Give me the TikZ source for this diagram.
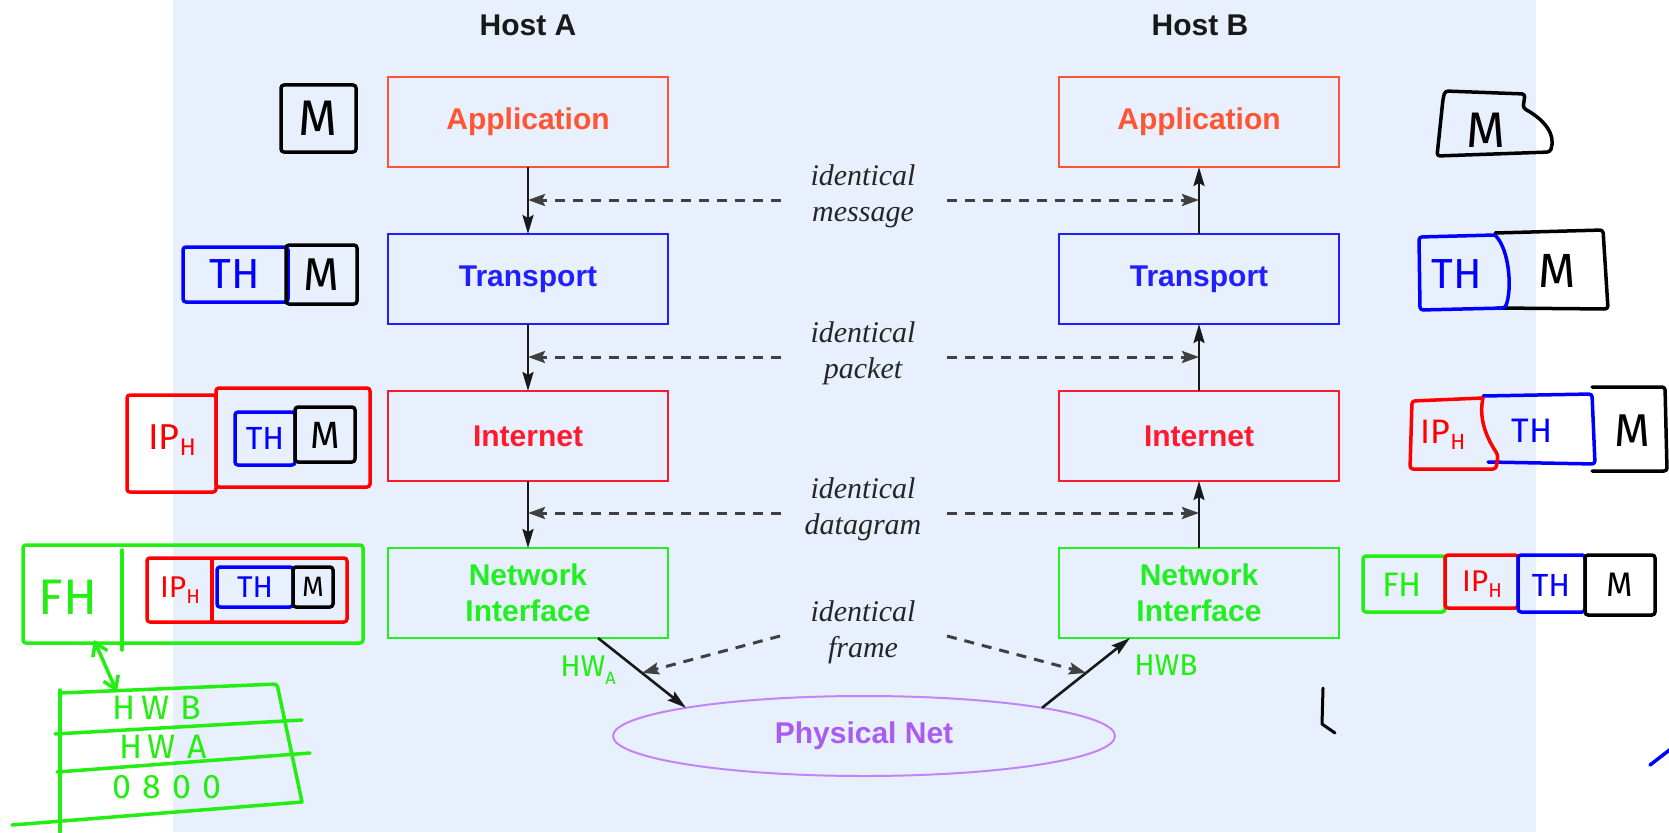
\documentclass[tikz,border=0pt]{standalone}
\usepackage{fontspec}
\setmainfont{Liberation Serif}
\setsansfont{Liberation Sans}
\newfontfamily\hwfont{Fira Sans}
\usetikzlibrary{arrows.meta,shapes.geometric,calc}
\definecolor{bgc}{HTML}{E7F0FC}
\definecolor{appc}{HTML}{FF5533}
\definecolor{trc}{HTML}{1F1FFF}
\definecolor{inc}{HTML}{FF1A2E}
\definecolor{nic}{HTML}{22EE22}
\definecolor{phc}{HTML}{A95CF2}
\definecolor{phl}{HTML}{C285F5}
\definecolor{hg}{HTML}{22EE11}
\definecolor{hr}{HTML}{FF0000}
\definecolor{hb}{HTML}{0000FF}
\newcommand\iphtxt[2]{IP\raisebox{-0.35ex}{\fontsize{#2}{#2}\selectfont H}}
\tikzset{
 layer/.style={draw, line width=2pt, minimum width=280pt, minimum height=90pt, inner sep=0pt, outer sep=0pt, font=\sffamily\bfseries\fontsize{30}{36}\selectfont, align=center},
 hostlbl/.style={font=\sffamily\bfseries\fontsize{30}{36}\selectfont, text=black!90},
 idlbl/.style={font=\itshape\fontsize{30}{36}\selectfont, align=center, text=black!85},
 solidarr/.style={draw=black!90, line width=2.6pt, -{Stealth[length=19pt,width=11pt,inset=3pt]}},
 dasharr/.style={draw=black!75, line width=3pt, dash pattern=on 10pt off 8pt, -{Stealth[length=17pt,width=12pt,inset=3pt]}},
 hw/.style={line width=3.5pt, line join=round, line cap=round, rounded corners=3pt},
 hwt/.style={font=\hwfont, inner sep=0pt},
}
\begin{document}
\begin{tikzpicture}[x=1pt,y=-1pt]
\useasboundingbox (0,0) rectangle (1669,832);
\fill[bgc] (173,0) rectangle (1536,832);

% hosts
\node[hostlbl] (hostA) at (528,25) {Host A};
\node[hostlbl] (hostB) at (1200,25) {Host B};

% layers
\node[layer, draw=appc, text=appc] (appA) at (528,122) {Application};
\node[layer, draw=trc, text=trc] (trA) at (528,279) {Transport};
\node[layer, draw=inc, text=inc] (inA) at (528,436) {Internet};
\node[layer, draw=nic, text=nic] (niA) at (528,593) {Network\\Interface};
\node[layer, draw=appc, text=appc] (appB) at (1199,122) {Application};
\node[layer, draw=trc, text=trc] (trB) at (1199,279) {Transport};
\node[layer, draw=inc, text=inc] (inB) at (1199,436) {Internet};
\node[layer, draw=nic, text=nic] (niB) at (1199,593) {Network\\Interface};

\node[ellipse, draw=phl, line width=2pt, minimum width=502pt, minimum height=80pt, inner sep=0pt, outer sep=0pt, text=phc, font=\sffamily\bfseries\fontsize{30}{36}\selectfont] (phys) at (864,736) {Physical Net};

% vertical arrows
\draw[solidarr] (appA) -- (trA);
\draw[solidarr] (trA) -- (inA);
\draw[solidarr] (inA) -- (niA);
\draw[solidarr] (niB) -- (inB);
\draw[solidarr] (inB) -- (trB);
\draw[solidarr] (trB) -- (appB);

% labels
\node[idlbl] (lmsg) at (863,196) {identical\\message};
\node[idlbl] (lpkt) at (863,353) {identical\\packet};
\node[idlbl] (ldgm) at (863,509) {identical\\datagram};
\node[idlbl] (lfrm) at (863,632) {identical\\frame};

% dashed connectors
\coordinate (mA1) at (528,200); \coordinate (mB1) at (1199,200);
\coordinate (mA2) at (528,357); \coordinate (mB2) at (1199,357);
\coordinate (mA3) at (528,513); \coordinate (mB3) at (1199,513);
\coordinate (sL1) at (781,200); \coordinate (sR1) at (947,200);
\coordinate (sL2) at (781,357); \coordinate (sR2) at (947,357);
\coordinate (sL3) at (781,513); \coordinate (sR3) at (947,513);
\draw[dasharr] (sL1) -- (mA1);
\draw[dasharr] (sR1) -- (mB1);
\draw[dasharr] (sL2) -- (mA2);
\draw[dasharr] (sR2) -- (mB2);
\draw[dasharr] (sL3) -- (mA3);
\draw[dasharr] (sR3) -- (mB3);

% physical links
\coordinate (niAout) at ($(niA.south)+(70,0)$);
\coordinate (niBin) at ($(niB.south)+(-69,0)$);
\draw[solidarr] (niAout) -- (phys.171);
\draw[solidarr] (phys.9) -- (niBin);
\coordinate (fA) at ($(niAout)!0.5!(phys.171)$);
\coordinate (fB) at ($(phys.9)!0.5!(niBin)$);
\coordinate (sLf) at (780,636); \coordinate (sRf) at (947,636);
\draw[dasharr] (sLf) -- (fA);
\draw[dasharr] (sRf) -- (fB);

% ---------- handwritten annotations, left ----------
\draw[hw, black] (281,85) rectangle (356,152);
\node[hwt, font=\hwfont\fontsize{50}{50}\selectfont] (mL1) at (318,118) {M};

\draw[hw, hb] (183,247) rectangle (288,302);
\draw[hw, black] (286,245) rectangle (357,304);
\node[hwt, text=hb, font=\hwfont\fontsize{42}{42}\selectfont] (thL2) at (235,274) {TH};
\node[hwt, font=\hwfont\fontsize{46}{46}\selectfont] (mL2) at (321,275) {M};

\draw[hw, hr] (127,395) rectangle (216,492);
\draw[hw, hr] (216,388) rectangle (370,487);
\draw[hw, hb] (235,412) rectangle (295,465);
\draw[hw, black] (295,407) rectangle (355,462);
\node[hwt, text=hr, font=\hwfont\fontsize{36}{36}\selectfont] (ipL3) at (172,440) {\iphtxt{}{24}};
\node[hwt, text=hb, font=\hwfont\fontsize{32}{32}\selectfont] (thL3) at (265,438) {TH};
\node[hwt, font=\hwfont\fontsize{38}{38}\selectfont] (mL3) at (325,435) {M};

\draw[hw, hg] (23,545) rectangle (363,643);
\draw[hw, hg] (122,550) -- (122,650);
\node[hwt, text=hg, font=\hwfont\fontsize{50}{50}\selectfont] (fhL4) at (68,597) {FH};
\draw[hw, hr] (147,558) rectangle (347,622);
\draw[hw, hr] (212,560) -- (212,620);
\draw[hw, hb] (217,567) rectangle (293,607);
\draw[hw, black] (293,567) rectangle (333,607);
\node[hwt, text=hr, font=\hwfont\fontsize{30}{30}\selectfont] (ipL4) at (180,590) {\iphtxt{}{20}};
\node[hwt, text=hb, font=\hwfont\fontsize{30}{30}\selectfont] (thL4) at (255,587) {TH};
\node[hwt, font=\hwfont\fontsize{28}{28}\selectfont] (mL4) at (313,587) {M};

\coordinate (arT) at (94,640); \coordinate (arB) at (117,692);
\draw[hw, hg, {Straight Barb[length=12pt,width=16pt]}-{Straight Barb[length=12pt,width=16pt]}] (arT) -- (arB);

\draw[hw, hg] (60,693) -- (277,684) -- (302,802);
\draw[hw, hg] (60,690) -- (60,832);
\draw[hw, hg] (55,734) -- (302,720);
\draw[hw, hg] (57,772) -- (310,753);
\draw[hw, hg] (12,825) -- (302,802);
\node[hwt, text=hg, font=\hwfont\fontsize{34}{34}\selectfont] (hwb) at (157,708) {H\,W\,\,B};
\node[hwt, text=hg, font=\hwfont\fontsize{34}{34}\selectfont] (hwa) at (163,747) {H\,W\,\,A};
\node[hwt, text=hg, font=\hwfont\fontsize{34}{34}\selectfont] (hw0) at (167,787) {0\,\,8\,\,0\,\,0};

\node[hwt, text=hg, font=\hwfont\fontsize{30}{30}\selectfont] (hwAl) at (588,670) {HW\raisebox{-0.5ex}{\fontsize{18}{18}\selectfont A}};
\node[hwt, text=hg, font=\hwfont\fontsize{30}{30}\selectfont] (hwBl) at (1166,665) {HWB};

% ---------- handwritten annotations, right ----------
\draw[hw, black] (1445,91) -- (1525,94) -- (1523,108) .. controls (1545,120) and (1556,135) .. (1550,152) -- (1437,156) -- (1443,99) -- cycle;
\node[hwt, font=\hwfont\fontsize{50}{50}\selectfont] (mR1) at (1486,130) {M};

\draw[hw, black] (1495,233) -- (1603,230) -- (1608,309) -- (1497,308);
\draw[hw, hb] (1495,235) -- (1419,237) -- (1420,310) -- (1505,308) .. controls (1512,290) and (1510,250) .. (1495,235);
\node[hwt, text=hb, font=\hwfont\fontsize{42}{42}\selectfont] (thR2) at (1457,274) {TH};
\node[hwt, font=\hwfont\fontsize{48}{48}\selectfont] (mR2) at (1557,271) {M};

\draw[hw, black] (1592,387) -- (1665,387) -- (1667,471) -- (1592,471);
\draw[hw, hb] (1483,396) -- (1592,394) -- (1595,464) -- (1488,462);
\draw[hw, hr] (1483,398) -- (1412,401) -- (1410,469) -- (1496,469) -- (1498,455) .. controls (1488,440) and (1478,420) .. (1483,398);
\node[hwt, text=hr, font=\hwfont\fontsize{34}{34}\selectfont] (ipR3) at (1443,435) {\iphtxt{}{22}};
\node[hwt, text=hb, font=\hwfont\fontsize{34}{34}\selectfont] (thR3) at (1532,431) {TH};
\node[hwt, font=\hwfont\fontsize{46}{46}\selectfont] (mR3) at (1632,431) {M};

\draw[hw, hg] (1363,556) rectangle (1445,612);
\draw[hw, hr] (1445,555) rectangle (1518,608);
\draw[hw, hb] (1518,555) rectangle (1585,612);
\draw[hw, black] (1585,555) rectangle (1655,615);
\node[hwt, text=hg, font=\hwfont\fontsize{34}{34}\selectfont] (fhR4) at (1402,585) {FH};
\node[hwt, text=hr, font=\hwfont\fontsize{30}{30}\selectfont] (ipR4) at (1482,584) {\iphtxt{}{20}};
\node[hwt, text=hb, font=\hwfont\fontsize{32}{32}\selectfont] (thR4) at (1551,585) {TH};
\node[hwt, font=\hwfont\fontsize{34}{34}\selectfont] (mR4) at (1620,585) {M};

% stray marks
\draw[line width=3pt, line cap=round, line join=round] (1323,688) -- (1322,724) -- (1335,733);
\draw[line width=3.5pt, line cap=round, hb] (1650,765) -- (1672,748);
\end{tikzpicture}
\end{document}
